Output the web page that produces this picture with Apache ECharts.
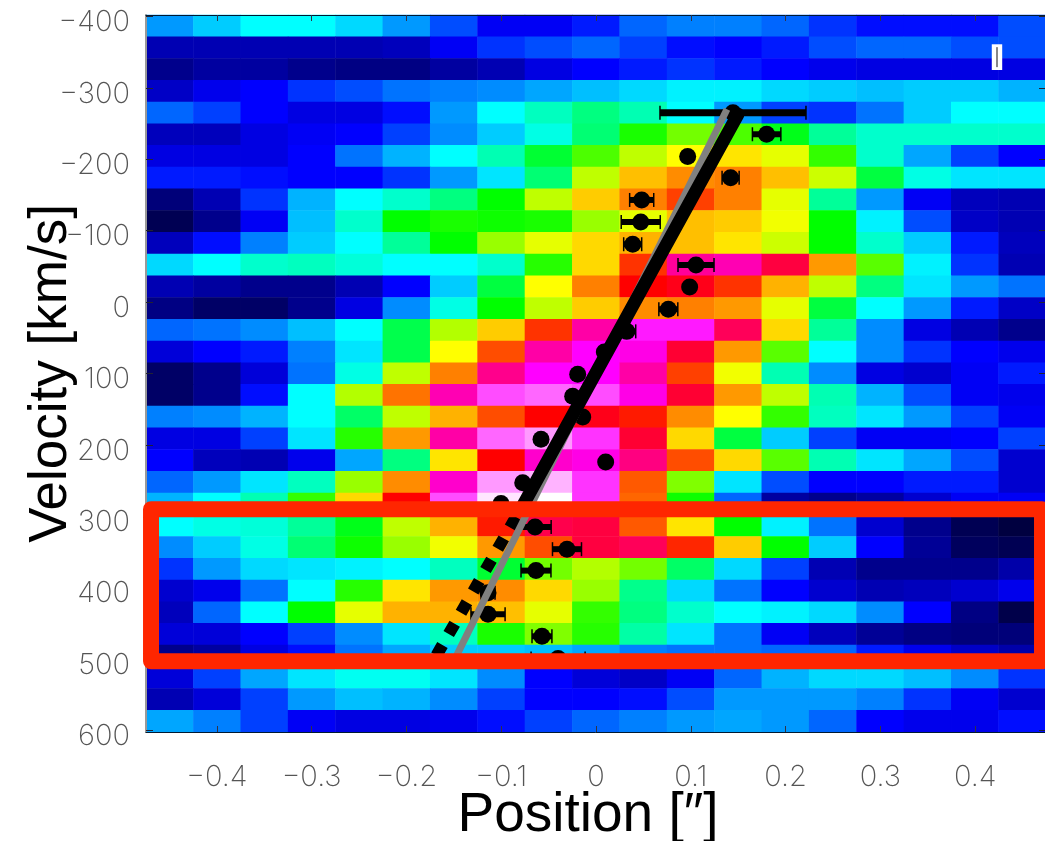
<!DOCTYPE html>
<html>
<head>
<meta charset="utf-8">
<style>html,body{margin:0;padding:0;background:#fff;overflow:hidden}#c{width:1045px;height:841px}</style>
<script src="https://cdn.jsdelivr.net/npm/echarts@6/dist/echarts.min.js"></script>
</head>
<body>
<div id="c"></div>
<script>
const positionBins = [-0.45,-0.40,-0.35,-0.30,-0.25,-0.20,-0.15,-0.10,-0.05,0,0.05,0.10,0.15,0.20,0.25,0.30,0.35,0.40,0.45];
const velocityBins = [-387,-356,-326,-296,-265,-235,-204,-174,-143,-113,-83,-52,-22,8,39,69,99,130,160,191,221,252,282,312,343,373,404,434,464,495,525,556,586];
const intensityRows = [
[16,18,20,20,18.5,16,13,9.5,9.5,11,14,15,15,14,12,10.5,10.5,10.5,13],
[6,6,6,6,6,6.5,9.5,12,13,14,12.5,10.5,10,11,13,14,14,13,13],
[4,5,5,4,3.5,3.5,5,6,8.5,10,11,12,11,10,9,8.5,8.5,8.5,8.5],
[7,9,10,12,13,14.5,15,15.5,16.5,17.5,18.5,19.5,19.5,18.5,18,17.5,18,18,17],
[14,12.5,10,8.5,8.5,10.5,16,20,22.5,25,23,20,16,12.5,12,14.5,18,20,20],
[6.5,6.5,8.5,9.5,10,12.5,15.5,18,21,25.5,31,34.5,33,29,24,22,22,22,22],
[8.5,8.5,8.5,10,14.5,17,20,23,28,33,37.5,40,41,39,32,22,16.5,12.5,10],
[11,11,10.5,10,10,12,16,19,25.5,37.5,42.5,44.5,45,42.5,38,27.5,21,19,19],
[3,6,12,17,20,22,25,30,37.5,42,45,47.5,45,39,24,16,9.5,6.5,6],
[1,4,9.5,17.5,22,30,31,30.5,31,36,39,42.5,42,39.5,30,19.5,13,7,6],
[6.5,10.5,15,18,20,24,30,36,39,41.5,43,42.5,41,38,30,22,18,11,6.5],
[18.5,20,22,22.5,21.5,20,20,22,31.5,41.5,48,56,57,52.5,44,33.5,19.5,12,6],
[6,5,4,4,6,10,18,27.5,40,45,50,51,48,43,37.5,25,19,16,14.5],
[3.5,2,2,4,8.5,15.5,21,30,37.5,42,44.5,45,44,39,27.5,20,16,11,7],
[14,14.5,15.5,17.5,20,27,37,42,48,56.5,61,61,53.5,41.5,24,15.5,8.5,6,4],
[8,10,11,15,19,27,40,47,56.5,60,59,52,44,33.5,20,15.5,12,10,9],
[2,4,8,14.5,21,37.5,45,55.5,60,60,56.5,47.5,39.5,23,15.5,8.5,7.5,9.5,11],
[2,4,10.5,20,37,45.5,57,63,64,63,59,52,44,37.5,23,17,13,9.5,9],
[15,15.5,17,20,26,37.5,43,47,50,51,49,44.5,40,32,22.5,19,16,12.5,9.5],
[8.5,8.5,12.5,19,31.5,44,56.5,64,66,62,52,41.5,27.5,18,12.5,9.5,9.5,10,12.5],
[10,6.5,6,9,16.5,25,41,50,58,59,55,47,41.5,33.5,23,19,16.5,13,7.5],
[14,16,19,22.5,36,44.5,58,66,67,62,46.5,35,19,13,10,10,11,11,7.5],
[17,20,23,32,41.5,50,63,69,70,62,46,30.5,14,5,4,5,7.5,9.5,9.5],
[20,21,21.5,24,29,37.5,43,49,53,52.5,46.5,41,30,19.5,14.5,7.5,4,1,0],
[15.5,18,21,25.5,30.5,36,39.5,44,47,52.5,53.5,48.5,42,30,18,10,4.5,1.5,1],
[12,16,18.5,19,19.5,20,22.5,28,34.5,37,34.5,26,18.5,12.5,6,4,4,4,5.5],
[7.5,9,14.5,20,31.5,41,44,44.5,41.5,36,24.5,18.5,14.5,10,7.5,6,6.5,7.5,9],
[6.5,14,20,30,39,43,43,42.5,39,32,25,22,20,19.5,18.5,15.5,10,3.5,0.5],
[8,8,10,12.5,15.5,19,22.5,31,35,31.5,23.5,19,14.5,9.5,6.5,4.5,3.5,3,3],
[4,5,8.5,10.5,14.5,16.5,18,18,17.5,16.5,15,14.5,14.5,14,14,11,9,7,5.5],
[8,12.5,16.5,19,20.5,20.5,19,15.5,10,8,7,9.5,14,17,18.5,18.5,17.5,15.5,12],
[6,8,12.5,16,17.5,17,15.5,12.5,10,10,10.5,13,16,16,16,15,12,9.5,7.5],
[16.5,15,12.5,9.5,8.5,8.5,9,10.5,12.5,14,15,16,16.5,16,14,10,9,9,10.5]
];
const pointX = [0.1445,0.180,0.0967,0.142,0.0482,0.0472,0.0387,0.1055,0.0988,0.0763,0.0324,0.0088,-0.0193,-0.0246,-0.014,-0.058,0.0102,-0.0773,-0.1002,-0.0643,-0.0306,-0.0633,-0.1139,-0.1139,-0.057,-0.040];
const pointV = [-265,-235,-204,-174,-143,-112,-81,-52,-21,10,41,70,101,132,161,192,224,253,282,315,346,376,407,437,468,499];
const pointErr = [0.077,0.015,0,0.009,0.0127,0.0206,0.0095,0.019,0.002,0.010,0.0095,0.003,0,0,0,0,0,0,0,0.017,0.0153,0.0158,0.0074,0.018,0.0105,0.0285];
const blackFitX = [0.1498,-0.0781];
const blackFitV = [-263,287];
const dottedFitX = [-0.0844,-0.171];
const dottedFitV = [301,501];
const grayFitX = [0.1382,-0.1519];
const grayFitV = [-270,508];
const highlightX = [-0.4694,0.4705];
const highlightV = [290,503];
const scaleBoxX = [0.4175,0.4285];
const scaleBoxV = [-361,-325];
const scaleBarX = 0.423;
const scaleBarV = [-357,-329];
const xTicks = [-0.4,-0.3,-0.2,-0.1,0,0.1,0.2,0.3,0.4];
const yTicks = [-400,-300,-200,-100,0,100,200,300,400,500,600];
const colormap = ['#000040','#0000ff','#00ffff','#00ff00','#ffff00','#ff0000','#ff00ff','#ffffff'];

const heatData = [];
intensityRows.forEach((row, r) => row.forEach((val, c) => heatData.push([c, r, val])));
const pair = (xs, vs) => xs.map((x, i) => [x, vs[i]]);
const minusFix = v => String(v).replace('-', '\u2212');
const labelFont = {fontFamily: 'Inter, "Liberation Sans", sans-serif', fontWeight: 200, color: '#555', fontSize: 29};
const titleFont = {fontFamily: '"Liberation Sans", sans-serif', color: '#000', fontSize: 53};
const X_MIN = -0.4747, X_MAX = 0.4747, V_MIN = -402, V_MAX = 602;

const chart = echarts.init(document.getElementById('c'), null, {renderer: 'canvas'});
chart.setOption({
  animation: false,
  backgroundColor: '#fff',
  grid: {left: 146, top: 15, width: 900, height: 717, containLabel: false, outerBoundsMode: 'none'},
  visualMap: {show: false, type: 'continuous', seriesIndex: 0, min: 0, max: 70, inRange: {color: colormap}},
  xAxis: [
    {type: 'category', data: positionBins, show: false, position: 'bottom'},
    {type: 'value', min: X_MIN, max: X_MAX, position: 'bottom', z: 5, splitLine: {show: false},
      name: 'Position [\u2033]', nameLocation: 'middle', nameGap: 56, nameMoveOverlap: false,
      nameTextStyle: Object.assign({}, titleFont, {fontSize: 55, padding: [0, 16, 0, 0]}),
      axisLine: {onZero: false, lineStyle: {color: '#001a33', width: 1}},
      axisTick: {inside: true, length: 6, customValues: xTicks, lineStyle: {color: '#334', width: 1}},
      axisLabel: Object.assign({customValues: xTicks, margin: 31, formatter: minusFix}, labelFont)},
    {type: 'value', min: X_MIN, max: X_MAX, position: 'top', z: 5, splitLine: {show: false},
      axisLine: {onZero: false, lineStyle: {color: '#001a33', width: 1}},
      axisTick: {inside: true, length: 6, customValues: xTicks, lineStyle: {color: '#334', width: 1}},
      axisLabel: {show: false}}
  ],
  yAxis: [
    {type: 'category', data: velocityBins, inverse: true, show: false, position: 'left'},
    {type: 'value', min: V_MIN, max: V_MAX, inverse: true, position: 'left', z: 5, splitLine: {show: false},
      name: 'Velocity [km/s]', nameLocation: 'middle', nameGap: 68, nameMoveOverlap: false, nameTextStyle: titleFont,
      axisLine: {onZero: false, lineStyle: {color: '#999', width: 2}},
      axisTick: {inside: true, length: 7, customValues: yTicks, lineStyle: {color: '#223', width: 1}},
      axisLabel: Object.assign({customValues: yTicks, margin: 16, verticalAlign: 'top', lineHeight: 12, formatter: minusFix}, labelFont)},
    {type: 'value', min: V_MIN, max: V_MAX, inverse: true, position: 'right', z: 5, splitLine: {show: false},
      axisLine: {show: false, onZero: false},
      axisTick: {inside: true, length: 7, customValues: yTicks, lineStyle: {color: '#223', width: 1}},
      axisLabel: {show: false}}
  ],
  series: [
    {type: 'heatmap', xAxisIndex: 0, yAxisIndex: 0, data: heatData, z: 1, progressive: 0,
      itemStyle: {borderWidth: 0}, emphasis: {disabled: true}, silent: true},
    {type: 'line', xAxisIndex: 1, yAxisIndex: 1, z: 6, data: pair(dottedFitX, dottedFitV), showSymbol: false, silent: true,
      lineStyle: {color: '#000', width: 12, type: [12, 12.6], cap: 'butt'}},
    {type: 'custom', xAxisIndex: 1, yAxisIndex: 1, z: 7, silent: true, clip: false,
      data: pointX.map((x, i) => [x, pointV[i], pointErr[i]]),
      encode: {x: 0, y: 1},
      renderItem(params, api) {
        const x = api.value(0), v = api.value(1), e = api.value(2);
        if (!e) return {type: 'group', children: []};
        const a = api.coord([x - e, v]), b = api.coord([x + e, v]);
        const heavy = params.dataIndex === 0 ? 7 : 6;
        const st = w => ({stroke: '#000', lineWidth: w});
        return {type: 'group', children: [
          {type: 'line', shape: {x1: a[0], y1: a[1], x2: b[0], y2: b[1]}, style: st(heavy)},
          {type: 'line', shape: {x1: a[0], y1: a[1] - 7, x2: a[0], y2: a[1] + 7}, style: st(1.5)},
          {type: 'line', shape: {x1: b[0], y1: b[1] - 7, x2: b[0], y2: b[1] + 7}, style: st(1.5)}
        ]};
      }},
    {type: 'scatter', xAxisIndex: 1, yAxisIndex: 1, z: 7, silent: true, symbol: 'circle', symbolSize: 17,
      data: pair(pointX, pointV), itemStyle: {color: '#000', opacity: 1}},
    {type: 'line', xAxisIndex: 1, yAxisIndex: 1, z: 8, data: pair(grayFitX, grayFitV), showSymbol: false, silent: true,
      lineStyle: {color: '#808080', width: 7, cap: 'butt'}},
    {type: 'line', xAxisIndex: 1, yAxisIndex: 1, z: 9, data: pair(blackFitX, blackFitV), showSymbol: false, silent: true,
      lineStyle: {color: '#000', width: 13, cap: 'round'}},
    {type: 'custom', xAxisIndex: 1, yAxisIndex: 1, z: 20, silent: true, clip: false,
      data: [[highlightX[0], highlightV[0]]],
      encode: {x: 0, y: 1},
      renderItem(params, api) {
        const a = api.coord([highlightX[0], highlightV[0]]), b = api.coord([highlightX[1], highlightV[1]]);
        const s = api.coord([scaleBoxX[0], scaleBoxV[0]]), t = api.coord([scaleBoxX[1], scaleBoxV[1]]);
        const u = api.coord([scaleBarX, scaleBarV[0]]), w = api.coord([scaleBarX, scaleBarV[1]]);
        return {type: 'group', children: [
          {type: 'rect', shape: {x: a[0], y: a[1], width: b[0] - a[0], height: b[1] - a[1]},
            style: {fill: 'none', stroke: '#ff2600', lineWidth: 16, lineJoin: 'round'}},
          {type: 'rect', shape: {x: s[0], y: s[1], width: t[0] - s[0], height: t[1] - s[1]}, style: {fill: '#fff'}},
          {type: 'line', shape: {x1: u[0], y1: u[1], x2: w[0], y2: w[1]}, style: {stroke: '#888', lineWidth: 2}}
        ]};
      }}
  ]
});
</script>
</body>
</html>
